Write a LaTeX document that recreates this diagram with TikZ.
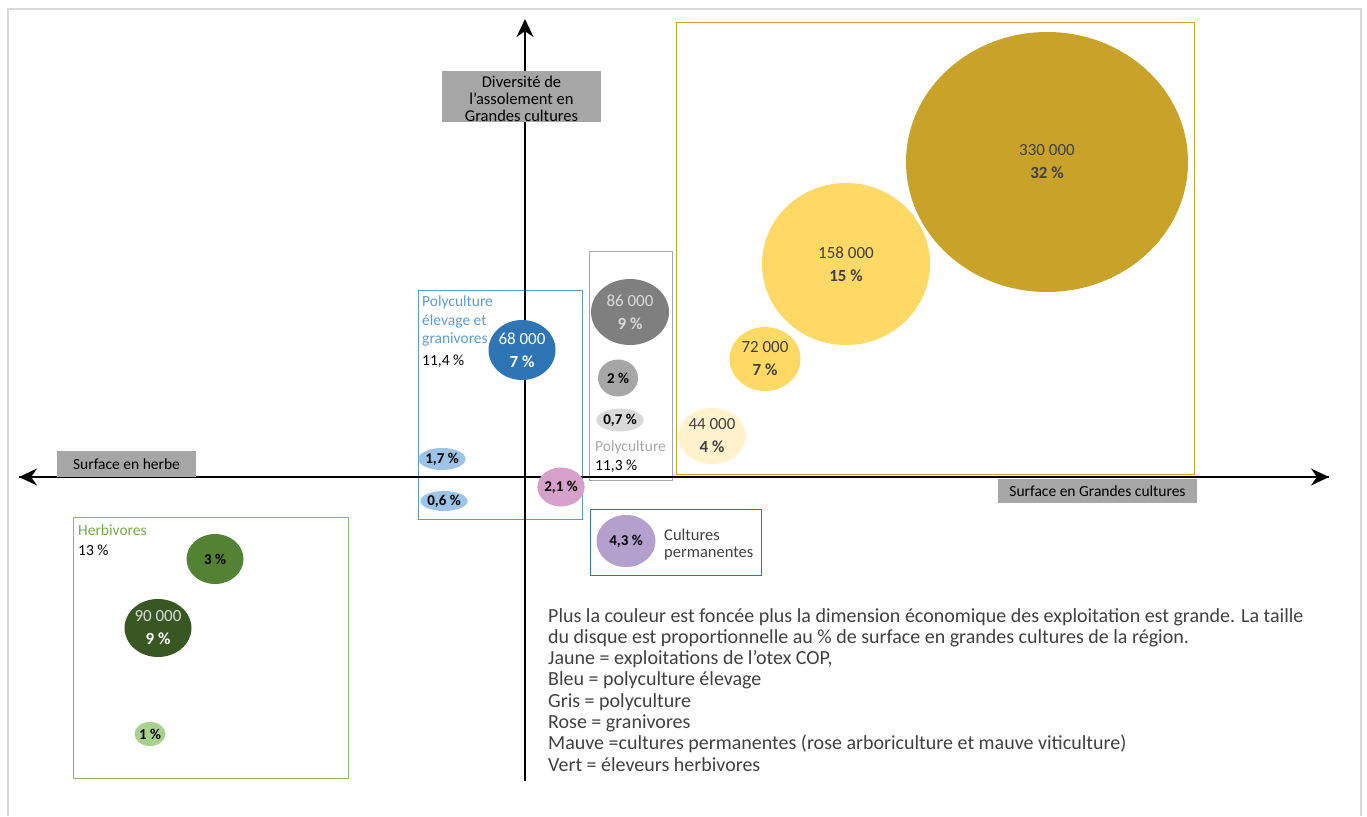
\documentclass[tikz,border=0pt]{standalone}
\usepackage{fontspec}
\setmainfont{Carlito}
\usetikzlibrary{shapes.geometric,arrows.meta}
\definecolor{frame}{HTML}{D9D9D9}
\definecolor{labgray}{HTML}{A6A6A6}
\definecolor{txt}{HTML}{404040}
\definecolor{gold}{HTML}{C9A22A}
\definecolor{yel}{HTML}{FFD966}
\definecolor{pale}{HTML}{FFF2CC}
\definecolor{gboxc}{HTML}{A6A6A6}
\definecolor{dgray}{HTML}{7F7F7F}
\definecolor{lgray}{HTML}{D9D9D9}
\definecolor{bluebox}{HTML}{5B9BD5}
\definecolor{dblue}{HTML}{2E75B6}
\definecolor{lblue}{HTML}{9DC3E6}
\definecolor{pink}{HTML}{D5A0C9}
\definecolor{mauve}{HTML}{B4A0CC}
\definecolor{cpbox}{HTML}{2E75B6}
\definecolor{greenbox}{HTML}{8FB86F}
\definecolor{greentxt}{HTML}{70AD47}
\definecolor{g1}{HTML}{548235}
\definecolor{g2}{HTML}{385723}
\definecolor{g3}{HTML}{A9D18E}
\tikzset{
  bub/.style={ellipse, inner sep=0pt, align=center, font=\fontsize{17}{23}\selectfont, text=txt},
  sbub/.style={ellipse, inner sep=0pt, align=center, text=black, font=\fontsize{15}{17}\selectfont\bfseries},
  grp/.style={draw, line width=1pt, inner sep=0pt, anchor=north west},
  axlab/.style={fill=labgray, inner sep=0pt, align=center, text=black},
  axis/.style={line width=1.8pt, -{Stealth[length=18pt,width=17pt]}},
  lab/.style={anchor=west, inner sep=0pt, font=\fontsize{15.5}{18}\selectfont},
}
\begin{document}
\begin{tikzpicture}[x=1pt,y=-1pt]
\useasboundingbox (0,0) rectangle (1367,816);
% frame
\draw[frame, line width=2pt] (8,816) -- (8,9) -- (1361,9) -- (1361,816);
% group boxes
\node[grp, draw=gold, minimum width=518pt, minimum height=452pt] (ybox) at (676,22) {};
\node[grp, draw=gboxc, minimum width=83pt, minimum height=229pt] (gbox) at (589,251) {};
\node[grp, draw=bluebox, minimum width=164pt, minimum height=229pt] (bbox) at (418,290) {};
\node[grp, draw=cpbox, minimum width=171pt, minimum height=66pt] (cbox) at (590,509) {};
\node[grp, draw=greenbox, minimum width=275pt, minimum height=261pt] (hbox) at (73,517) {};
% axes
\coordinate (vb) at (525,781);
\coordinate (vt) at (525,19);
\coordinate (hl) at (19,477);
\coordinate (hr) at (1329,477);
\draw[axis] (vb) -- (vt);
\draw[axis] (hr) -- (hl);
\draw[axis] (hl) -- (hr);
% axis labels
\node[axlab, minimum width=159pt, minimum height=51pt] (ylab) at (521.5,96.5) {};
\node[align=center, inner sep=0pt, font=\fontsize{16.5}{17}\selectfont] (ytxt) at (521.5,98.5) {Diversité de\\l’assolement en\\Grandes cultures};
\node[axlab, minimum width=139pt, minimum height=26pt, font=\fontsize{15.5}{17}\selectfont] (hlab) at (126.5,464) {Surface en herbe};
\node[axlab, minimum width=199pt, minimum height=24pt, font=\fontsize{15.5}{17}\selectfont] (glab) at (1097.5,491) {Surface en Grandes cultures};
% yellow bubbles
\node[bub, fill=gold, minimum width=282pt, minimum height=260pt] (b330) at (1047,162) {330 000\\\textbf{32 \%}};
\node[bub, fill=yel, minimum width=168pt, minimum height=162pt] (b158) at (846,264) {158 000\\\textbf{15 \%}};
\node[bub, fill=yel, minimum width=71pt, minimum height=64pt] (b72) at (765,359) {72 000\\\textbf{7 \%}};
\node[bub, fill=pale, minimum width=68pt, minimum height=56pt] (b44) at (712,436) {44 000\\\textbf{4 \%}};
% gray bubbles
\node[bub, fill=dgray, text=lgray, minimum width=78pt, minimum height=66pt] (b86) at (630,312) {86 000\\\textbf{9 \%}};
\node[sbub, fill=labgray, minimum width=40pt, minimum height=37pt] (b2) at (618,378) {2 \%};
\node[sbub, fill=lgray, minimum width=40pt, minimum height=23pt] (b07) at (620,420) {0,7 \%};
\node[lab, text=labgray] (tpoly) at (595,447) {Polyculture};
\node[lab, text=black] (tpolyp) at (595,466) {11,3 \%};
% blue bubbles
\node[lab, text=bluebox, align=left, anchor=north west, font=\fontsize{15.5}{18.5}\selectfont] (tpeg) at (422,296) {Polyculture\\élevage et\\granivores};
\node[lab, text=black] (tpegp) at (422,361) {11,4 \%};
\node[bub, fill=dblue, text=white, minimum width=67pt, minimum height=60pt] (b68) at (522,350) {68 000\\\textbf{7 \%}};
\node[sbub, fill=lblue, minimum width=38pt, minimum height=22pt] (b17) at (442,459) {1,7 \%};
\node[sbub, fill=lblue, minimum width=43pt, minimum height=20pt] (b06) at (444,501) {0,6 \%};
\node[sbub, fill=pink, minimum width=46pt, minimum height=39pt] (b21) at (561,487) {2,1 \%};
% cultures permanentes
\node[sbub, fill=mauve, minimum width=59pt, minimum height=52pt] (b43) at (626,541) {4,3 \%};
\node[lab, text=txt, align=left, font=\fontsize{16.5}{17}\selectfont] (tcp) at (664,545) {Cultures\\permanentes};
% herbivores
\node[lab, text=greentxt] (therb) at (78,530) {Herbivores};
\node[lab, text=black] (therbp) at (78,550) {13 \%};
\node[sbub, fill=g1, minimum width=57pt, minimum height=50pt] (b3) at (215,559) {3 \%};
\node[bub, fill=g2, text=white, minimum width=67pt, minimum height=58pt] (b90) at (158,628) {\textcolor{lgray}{90 000}\\\textbf{9 \%}};
\node[sbub, fill=g3, minimum width=30pt, minimum height=24pt] (b1) at (150,734) {1 \%};
% legend
\node[anchor=north west, inner sep=0pt, align=left, text=txt, font=\fontsize{20}{21.3}\selectfont] (legend) at (548,608) {Plus la couleur est foncée plus la dimension économique des exploitation est grande. La taille\\du disque est proportionnelle au \% de surface en grandes cultures de la région.\\Jaune = exploitations de l’otex COP,\\Bleu = polyculture élevage\\Gris = polyculture\\Rose = granivores\\Mauve =cultures permanentes (rose arboriculture et mauve viticulture)\\Vert = éleveurs herbivores};
\end{tikzpicture}
\end{document}
